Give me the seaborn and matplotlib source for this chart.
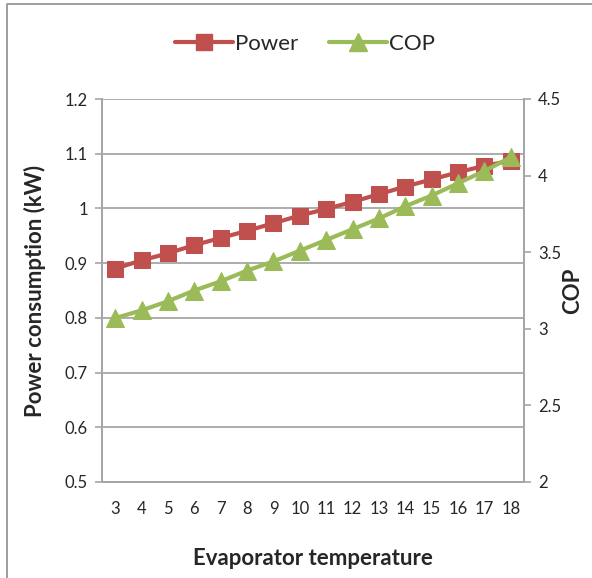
import matplotlib
matplotlib.use("Agg")
import matplotlib.pyplot as plt
import seaborn as sns
import pandas as pd
from matplotlib.lines import Line2D

temps = [3, 4, 5, 6, 7, 8, 9, 10, 11, 12, 13, 14, 15, 16, 17, 18]
power = [0.890, 0.905, 0.918, 0.933, 0.946, 0.959, 0.973, 0.987, 0.999,
         1.012, 1.026, 1.040, 1.053, 1.066, 1.078, 1.087]
cop = [3.07, 3.12, 3.18, 3.25, 3.31, 3.38, 3.44, 3.51, 3.58, 3.65, 3.72,
       3.80, 3.87, 3.95, 4.03, 4.12]
left_ticks = [0.5, 0.6, 0.7, 0.8, 0.9, 1.0, 1.1, 1.2]
left_labels = ["0.5", "0.6", "0.7", "0.8", "0.9", "1", "1.1", "1.2"]
right_ticks = [2, 2.5, 3, 3.5, 4, 4.5]
right_labels = ["2", "2.5", "3", "3.5", "4", "4.5"]

sns.set_style("white")
plt.rcParams['font.family'] = ['Lato', 'DejaVu Sans']

RED = "#C0504D"
GREEN = "#9BBB59"
GRID = "#A6A6A6"

df = pd.DataFrame({"temp": temps, "power": power, "cop": cop})

fig = plt.figure(figsize=(5.92, 5.78), dpi=100)
ax = fig.add_axes([102/592, 1-482/578, (524-102)/592, (482-99)/578])
ax2 = ax.twinx()

sns.lineplot(data=df, x="temp", y="power", ax=ax, color=RED, marker="s",
             markersize=12, markeredgecolor=RED, linewidth=3, zorder=3)
sns.lineplot(data=df, x="temp", y="cop", ax=ax2, color=GREEN, marker="^",
             markersize=13, markeredgecolor=GREEN, linewidth=3, zorder=3)

ax.set_xlim(2.5, 18.5)
ax.set_ylim(0.5, 1.2)
ax2.set_ylim(2, 4.5)

ax.set_xticks(temps)
ax.set_xticklabels([str(t) for t in temps])
ax.set_xticks([t - 0.5 for t in temps] + [18.5], minor=True)
ax.tick_params(axis="x", which="major", length=0, labelsize=12, pad=14)
ax.tick_params(axis="x", which="minor", length=5, color=GRID, width=1.2, direction="out")

ax.set_yticks(left_ticks)
ax.set_yticklabels(left_labels)
ax.tick_params(axis="y", length=5, color=GRID, width=1.2, labelsize=12, pad=5, direction="out", left=True)
ax2.set_yticks(right_ticks)
ax2.set_yticklabels(right_labels)
ax2.tick_params(axis="y", length=5, color=GRID, width=1.2, labelsize=12, pad=5, direction="out", right=True)

ax.yaxis.grid(True, color=GRID, linewidth=1.3)
ax.xaxis.grid(False)
ax2.grid(False)

for a in (ax, ax2):
    for s in a.spines.values():
        s.set_color(GRID)
        s.set_linewidth(1.3)
    a.spines["top"].set_visible(False)

ax.set_xlabel("Evaporator temperature", fontsize=16, fontweight="bold", labelpad=22)
ax.set_ylabel("Power consumption (kW)", fontsize=16, fontweight="bold", labelpad=14)
ax2.set_ylabel("COP", fontsize=16, fontweight="bold", labelpad=1)

handles = [
    Line2D([], [], color=RED, marker="s", markersize=12, linewidth=3, markeredgecolor=RED),
    Line2D([], [], color=GREEN, marker="^", markersize=13, linewidth=3, markeredgecolor=GREEN),
]
fig.legend(handles, ["Power", "COP"], loc="center", bbox_to_anchor=(305/592, 1-44/578),
           ncol=2, frameon=False, fontsize=16, handlelength=2.6, handletextpad=0.1,
           columnspacing=1.4)

# chart border (left and top visible)
fig.add_artist(Line2D([7/592, 7/592, 1.0], [0.0, 1-4/578, 1-4/578],
                      transform=fig.transFigure, color="#8C8C8C", linewidth=1.2))

fig.savefig("out.png", dpi=100)
